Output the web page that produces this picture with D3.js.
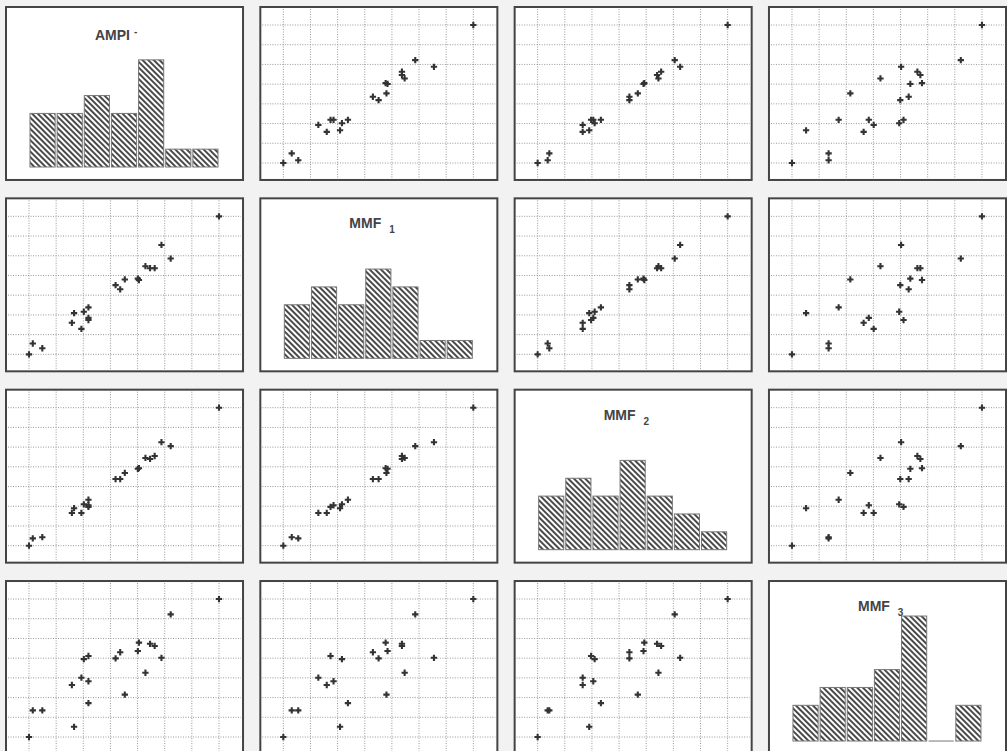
<!DOCTYPE html>
<html>
<head>
<meta charset="utf-8">
<script src="https://cdnjs.cloudflare.com/ajax/libs/d3/7.8.5/d3.min.js"></script>
<style>
  body { margin: 0; background: #f2f2f2; }
  svg { display: block; }
</style>
</head>
<body>
<div id="chart-area"></div>
<script>
// values, in grid units (min = 0, max = 7)
var ampi = [0, 0.49, 0.14, 1.93, 1.58, 2.19, 2.19, 1.66, 2.02, 2.19, 3.36, 3.19, 4.05, 4.01, 3.53, 4.63, 4.46, 4.29, 5.22, 4.88, 7];
var mmf1 = [0, 0.31, 0.55, 1.29, 1.60, 1.74, 1.85, 2.09, 2.16, 2.38, 3.30, 3.51, 3.77, 3.84, 3.80, 4.37, 4.37, 4.47, 4.86, 5.55, 7];
var mmf2 = [0, 0.43, 0.37, 1.66, 1.66, 1.97, 2.05, 1.90, 2.10, 2.33, 3.38, 3.38, 3.93, 3.90, 3.69, 4.55, 4.40, 4.45, 5.05, 5.25, 7];
var mmf3 = [0, 1.35, 1.35, 3.01, 2.64, 4.11, 2.83, 0.52, 3.95, 1.72, 4.30, 3.99, 4.79, 4.36, 2.15, 4.62, 4.73, 3.26, 6.22, 4.02, 7];

var labels = ['AMPI', 'MMF', 'MMF', 'MMF'];
var marks = ['-', '1', '2', '3'];   // superscript on the first, subscripts on the rest
var vars = [ampi, mmf1, mmf2, mmf3];
var binCount = 7;

var width = 1007;
var height = 751;

var svg = d3.select('#chart-area')
  .append('svg')
  .attr('width', width)
  .attr('height', height);

// hatch fill for the histogram bars
svg.append('defs')
  .append('pattern')
    .attr('id', 'hatch')
    .attr('patternUnits', 'userSpaceOnUse')
    .attr('width', 4)
    .attr('height', 4)
    .attr('patternTransform', 'rotate(45)')
  .call(function(p) {
    p.append('rect').attr('width', 4).attr('height', 4).attr('fill', '#fff');
    p.append('rect')
      .attr('x', 0).attr('y', 0)
      .attr('width', 4).attr('height', 2)
      .attr('fill', '#4a4a4a');
  });

// panel placement
var col = d3.scaleBand().domain(d3.range(4)).range([6, 1006]).paddingInner(0.068);
var row = d3.scaleBand().domain(d3.range(4)).range([7, 754]).paddingInner(0.096);
var pw = col.bandwidth();
var ph = row.bandwidth();

// scales inside a panel
var scales = vars.map(function(v) {
  return d3.extent(v);
});
var xRange = [23, 213];
var yRange = [156, 18];
var count = d3.scaleLinear().domain([0, 7]).range([160, 35]);

var cells = [];
d3.range(4).forEach(function(i) {
  d3.range(4).forEach(function(j) {
    cells.push({ i: i, j: j });
  });
});

var panel = svg.selectAll('g.panel')
  .data(cells)
  .enter()
  .append('g')
    .attr('class', 'panel')
    .attr('transform', function(d) {
      return 'translate(' + col(d.j) + ', ' + row(d.i) + ')';
    });

panel.append('rect')
  .attr('width', pw)
  .attr('height', ph)
  .attr('fill', '#fff')
  .attr('stroke', '#444')
  .attr('stroke-width', 2);

panel.each(function(d) {
  var g = d3.select(this);
  var x = d3.scaleLinear().domain(scales[d.j]).range(xRange);

  if (d.i === d.j) {
    // Histogram on the diagonal
    var ext = scales[d.i];
    var step = (ext[1] - ext[0]) / binCount;
    var bins = d3.bin()
      .domain(ext)
      .thresholds(d3.range(1, binCount).map(function(k) { return ext[0] + k * step; }))(vars[d.i]);

    g.selectAll('rect.bar')
      .data(bins.filter(function(b) { return b.length > 0; }))
      .enter()
      .append('rect')
        .attr('class', 'bar')
        .attr('x', function(b) { return x(b.x0) + 1; })
        .attr('width', function(b) { return x(b.x1) - x(b.x0) - 2; })
        .attr('y', function(b) { return count(b.length); })
        .attr('height', function(b) { return count(0) - count(b.length); })
        .attr('fill', 'url(#hatch)')
        .attr('stroke', '#777')
        .attr('stroke-width', 1);

    // empty bins show as a flat line
    g.selectAll('line.empty')
      .data(bins.filter(function(b) { return b.length === 0; }))
      .enter()
      .append('line')
        .attr('x1', function(b) { return x(b.x0) + 1; })
        .attr('x2', function(b) { return x(b.x1) - 1; })
        .attr('y1', count(0))
        .attr('y2', count(0))
        .attr('stroke', '#777');

    var title = g.append('text')
      .attr('x', 89)
      .attr('y', d.i === 0 ? 33 : 30)
      .attr('font-family', 'Liberation Sans, Arial, sans-serif')
      .attr('font-size', '14px')
      .attr('font-weight', 'bold')
      .attr('fill', '#444')
      .text(labels[d.i]);

    title.append('tspan')
      .attr('dx', d.i === 0 ? 4 : 8)
      .attr('dy', d.i === 0 ? -5 : 5)
      .attr('font-size', '10px')
      .text(marks[d.i]);
    return;
  }

  var y = d3.scaleLinear().domain(scales[d.i]).range(yRange);
  var ticksX = d3.range(binCount + 1).map(function(k) { return scales[d.j][0] + k * (scales[d.j][1] - scales[d.j][0]) / binCount; });
  var ticksY = d3.range(binCount + 1).map(function(k) { return scales[d.i][0] + k * (scales[d.i][1] - scales[d.i][0]) / binCount; });

  // Dotted grid
  g.selectAll('line.gx')
    .data(ticksX)
    .enter()
    .append('line')
      .attr('x1', function(t) { return x(t); })
      .attr('x2', function(t) { return x(t); })
      .attr('y1', 2)
      .attr('y2', ph - 2)
      .attr('stroke', '#999')
      .attr('stroke-dasharray', '1,1.5');

  g.selectAll('line.gy')
    .data(ticksY)
    .enter()
    .append('line')
      .attr('x1', 2)
      .attr('x2', pw - 2)
      .attr('y1', function(t) { return y(t); })
      .attr('y2', function(t) { return y(t); })
      .attr('stroke', '#999')
      .attr('stroke-dasharray', '1,1.5');

  // Points
  g.selectAll('path.pt')
    .data(d3.range(vars[0].length))
    .enter()
    .append('path')
      .attr('d', d3.symbol().type(d3.symbolCross).size(22))
      .attr('transform', function(k) {
        return 'translate(' + x(vars[d.j][k]) + ', ' + y(vars[d.i][k]) + ')';
      })
      .attr('fill', '#333');
});
</script>
</body>
</html>
